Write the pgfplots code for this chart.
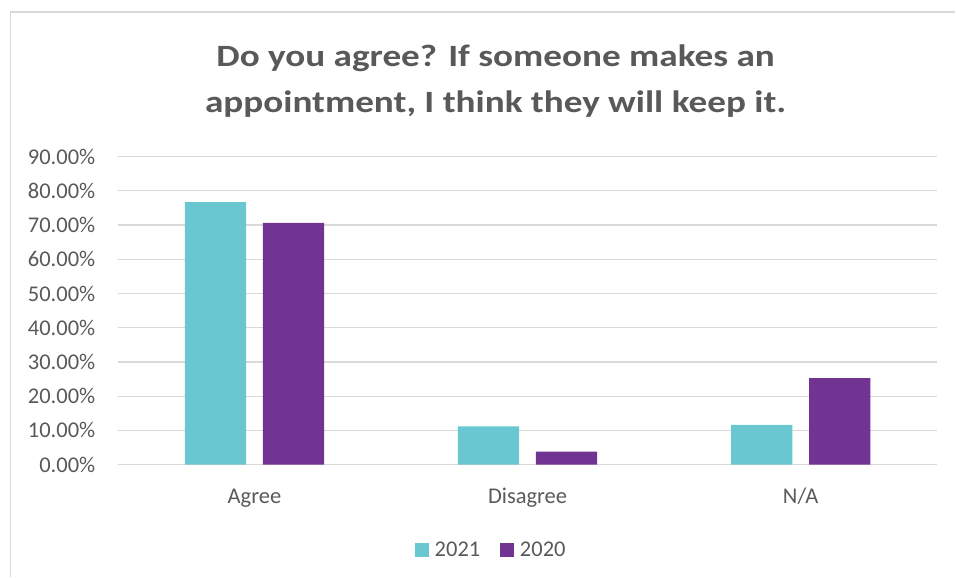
\documentclass[border=0pt]{standalone}
\usepackage{pgfplots}
\pgfplotsset{compat=1.18}
\usepackage{fontspec}
\setmainfont{Carlito}
\newfontfamily\titlefont[FakeStretch=1.2]{Carlito}
\definecolor{teal21}{HTML}{68C7D0}
\definecolor{purp20}{HTML}{723492}
\definecolor{txtgray}{HTML}{595959}
\definecolor{gridgray}{HTML}{D9D9D9}
\begin{document}
\begin{tikzpicture}
\begin{axis}[
  scale only axis, width=820pt, height=308.3pt,
  xmin=-0.5, xmax=2.5, ymin=0, ymax=90,
  ybar=16.7pt, bar width=61.3pt,
  xtick={0,1,2}, xticklabels={Agree,Disagree,N/A},
  ytick={0,10,20,30,40,50,60,70,80,90},
  yticklabels={0.00\%,10.00\%,20.00\%,30.00\%,40.00\%,50.00\%,60.00\%,70.00\%,80.00\%,90.00\%},
  major tick length=0pt,
  axis line style={draw=none},
  ymajorgrids, major grid style={gridgray, line width=1.3pt},
  tick label style={txtgray, font=\fontsize{22.5}{26}\selectfont},
  yticklabel style={anchor=east, inner sep=0pt, xshift=-22.5pt},
  xticklabel style={anchor=base, inner sep=0pt, yshift=-39pt},
  legend columns=2,
  legend style={at={(0.4543,-0.2757)}, anchor=center, draw=none, fill=none,
    inner sep=0pt, outer sep=0pt,
    font=\fontsize{22.5}{26}\selectfont, text=txtgray,
    nodes={inner sep=0pt},
    /tikz/every odd column/.append style={column sep=6pt},
    /tikz/every even column/.append style={column sep=19.7pt}},
  legend image code/.code={\fill[#1] (0pt,-7pt) rectangle (14pt,7pt);},
]
\addplot[fill=teal21, draw=none] coordinates {(0,76.7) (1,11.2) (2,11.6)};
\addplot[fill=purp20, draw=none] coordinates {(0,70.6) (1,3.8) (2,25.3)};
\legend{2021,2020}
\end{axis}
% page extent: pixel (0,0)-(956,577) with axis origin at pixel (118,465)
\path (-118pt,-112pt) rectangle (838pt,465pt);
% chart frame (left and top edges visible)
\draw[gridgray, line width=1.5pt] (-107.5pt,-112pt) -- (-107.5pt,453pt) -- (838pt,453pt);
% title
\node[txtgray, font=\titlefont\fontsize{31}{36}\selectfont\bfseries, anchor=base] at (378pt,398.3pt)
  {Do you agree? If someone makes an};
\node[txtgray, font=\titlefont\fontsize{31}{36}\selectfont\bfseries, anchor=base] at (378pt,352.3pt)
  {appointment, I think they will keep it.};
\end{tikzpicture}
\end{document}
